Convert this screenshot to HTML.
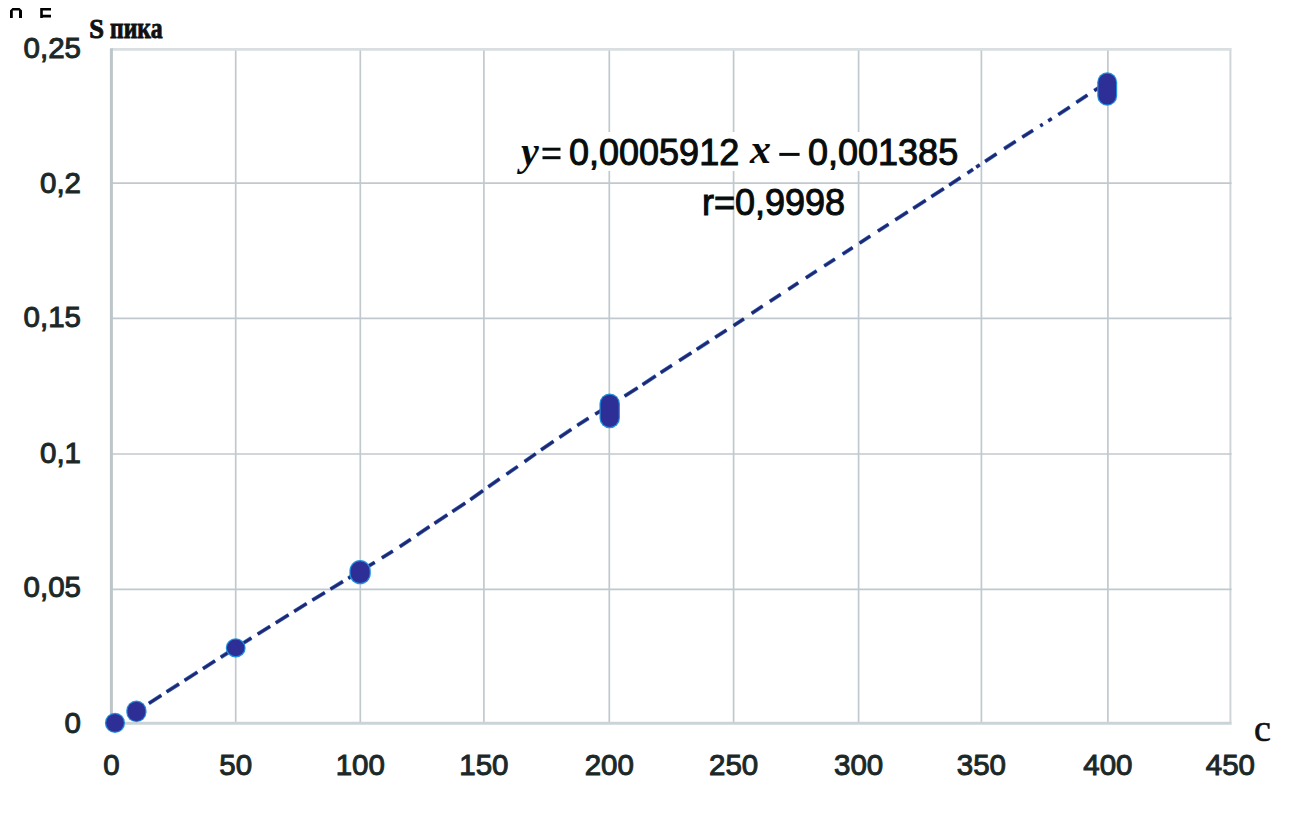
<!DOCTYPE html>
<html><head><meta charset="utf-8"><style>
html,body{margin:0;padding:0;background:#fff;}
body{width:1299px;height:817px;overflow:hidden;position:relative;}
svg{position:absolute;left:0;top:0;}
.ax{font-family:"Liberation Sans",sans-serif;font-size:29.5px;fill:#1C2828;stroke:#1C2828;stroke-width:1.0px;}
.eq{font-family:"Liberation Sans",sans-serif;font-size:36px;fill:#080C0C;stroke:#080C0C;stroke-width:1.0px;}
.it{font-family:"Liberation Serif",serif;font-style:italic;font-weight:bold;fill:#080C0C;}
.sl{font-family:"Liberation Serif",serif;font-weight:bold;fill:#111;stroke:#111;stroke-width:0.9px;}
.cl{font-family:"Liberation Serif",serif;font-size:38px;fill:#111;stroke:#111;stroke-width:0.6px;}
</style></head><body>
<svg width="1299" height="817" viewBox="0 0 1299 817">
<rect width="1299" height="817" fill="#fff"/>
<line x1="235.7" y1="49.4" x2="235.7" y2="723.3" stroke="#C0C9CD" stroke-width="1.7"/>
<line x1="360.3" y1="49.4" x2="360.3" y2="723.3" stroke="#C0C9CD" stroke-width="1.7"/>
<line x1="483.9" y1="49.4" x2="483.9" y2="723.3" stroke="#C0C9CD" stroke-width="1.7"/>
<line x1="609.3" y1="49.4" x2="609.3" y2="723.3" stroke="#C0C9CD" stroke-width="1.7"/>
<line x1="733.6" y1="49.4" x2="733.6" y2="723.3" stroke="#C0C9CD" stroke-width="1.7"/>
<line x1="858.6" y1="49.4" x2="858.6" y2="723.3" stroke="#C0C9CD" stroke-width="1.7"/>
<line x1="981.4" y1="49.4" x2="981.4" y2="723.3" stroke="#C0C9CD" stroke-width="1.7"/>
<line x1="1107.9" y1="49.4" x2="1107.9" y2="723.3" stroke="#C0C9CD" stroke-width="1.7"/>
<line x1="1230.4" y1="49.4" x2="1230.4" y2="723.3" stroke="#CFD6D9" stroke-width="2.0"/>
<line x1="111.4" y1="589.3" x2="1231.6000000000001" y2="589.3" stroke="#C0C9CD" stroke-width="1.7"/>
<line x1="111.4" y1="454.0" x2="1231.6000000000001" y2="454.0" stroke="#C0C9CD" stroke-width="1.7"/>
<line x1="111.4" y1="318.3" x2="1231.6000000000001" y2="318.3" stroke="#C0C9CD" stroke-width="1.7"/>
<line x1="111.4" y1="183.2" x2="1231.6000000000001" y2="183.2" stroke="#C0C9CD" stroke-width="1.7"/>
<line x1="111.4" y1="49.4" x2="1231.6000000000001" y2="49.4" stroke="#D9DEE1" stroke-width="2.6"/>
<line x1="111.4" y1="48.199999999999996" x2="111.4" y2="724.8" stroke="#BDC6CA" stroke-width="3"/>
<line x1="109.9" y1="723.3" x2="1231.6000000000001" y2="723.3" stroke="#CAD3D7" stroke-width="3"/>
<path d="M148.90,703.32L161.30,695.33 M166.60,691.94L179.00,684.00 M184.60,680.42L197.40,672.23 M203.00,668.64L215.00,660.96 M220.80,657.25L232.20,649.99 M239.30,645.56L251.40,638.02 M257.70,634.09L270.10,626.35 M275.80,622.80L288.50,614.88 M294.20,611.32L306.60,603.68 M312.40,600.13L324.80,592.56 M330.50,589.08L342.90,581.54 M348.30,578.28L359.70,571.41 M363.30,569.23L374.70,562.36 M381.90,557.96L392.80,551.08 M399.80,546.65L410.70,539.37 M416.90,535.02L429.40,526.66 M434.50,523.30L447.30,514.88 M452.40,511.53L465.20,503.10 M470.40,499.66L483.00,490.60 M488.30,486.79L499.60,478.91 M506.50,474.25L517.70,466.49 M524.60,461.61L535.70,453.75 M541.10,449.93L553.50,441.39 M559.50,437.37L571.30,429.46 M577.30,425.44L588.50,418.26 M595.30,414.11L606.70,407.15 M624.60,396.22L637.60,387.95 M642.60,384.63L655.70,375.96 M660.70,372.65L671.90,365.34 M679.20,360.64L691.30,352.84 M696.80,349.30L708.90,341.51 M715.20,337.45L726.50,330.18 M733.60,325.61L743.90,318.80 M751.70,313.44L762.60,306.04 M769.90,301.30L780.60,294.35 M788.30,289.35L798.20,282.92 M805.90,277.92L816.60,270.97 M824.30,265.97L834.90,259.08 M842.70,254.02L852.60,247.59 M859.60,243.04L870.20,236.16 M877.90,231.16L888.50,224.27 M895.30,219.86L907.70,211.87 M913.30,208.29L925.70,200.34 M931.40,196.69L943.80,188.67 M949.20,185.10L960.50,177.64 M967.50,173.01L973.00,169.38 M976.30,167.20L979.70,164.95 M985.20,161.31L996.50,153.85 M1004.20,148.76L1015.60,141.40 M1022.30,137.18L1033.00,130.45 M1040.30,125.85L1042.70,124.34 M1048.30,120.82L1051.70,118.68 M1058.30,114.52L1069.70,107.05 M1076.40,102.48L1087.40,95.17 M1094.30,90.70L1105.70,83.31" stroke="#2F6FC8" stroke-width="3.9" fill="none"/>
<path d="M148.90,703.32L161.30,695.33 M166.60,691.94L179.00,684.00 M184.60,680.42L197.40,672.23 M203.00,668.64L215.00,660.96 M220.80,657.25L232.20,649.99 M239.30,645.56L251.40,638.02 M257.70,634.09L270.10,626.35 M275.80,622.80L288.50,614.88 M294.20,611.32L306.60,603.68 M312.40,600.13L324.80,592.56 M330.50,589.08L342.90,581.54 M348.30,578.28L359.70,571.41 M363.30,569.23L374.70,562.36 M381.90,557.96L392.80,551.08 M399.80,546.65L410.70,539.37 M416.90,535.02L429.40,526.66 M434.50,523.30L447.30,514.88 M452.40,511.53L465.20,503.10 M470.40,499.66L483.00,490.60 M488.30,486.79L499.60,478.91 M506.50,474.25L517.70,466.49 M524.60,461.61L535.70,453.75 M541.10,449.93L553.50,441.39 M559.50,437.37L571.30,429.46 M577.30,425.44L588.50,418.26 M595.30,414.11L606.70,407.15 M624.60,396.22L637.60,387.95 M642.60,384.63L655.70,375.96 M660.70,372.65L671.90,365.34 M679.20,360.64L691.30,352.84 M696.80,349.30L708.90,341.51 M715.20,337.45L726.50,330.18 M733.60,325.61L743.90,318.80 M751.70,313.44L762.60,306.04 M769.90,301.30L780.60,294.35 M788.30,289.35L798.20,282.92 M805.90,277.92L816.60,270.97 M824.30,265.97L834.90,259.08 M842.70,254.02L852.60,247.59 M859.60,243.04L870.20,236.16 M877.90,231.16L888.50,224.27 M895.30,219.86L907.70,211.87 M913.30,208.29L925.70,200.34 M931.40,196.69L943.80,188.67 M949.20,185.10L960.50,177.64 M967.50,173.01L973.00,169.38 M976.30,167.20L979.70,164.95 M985.20,161.31L996.50,153.85 M1004.20,148.76L1015.60,141.40 M1022.30,137.18L1033.00,130.45 M1040.30,125.85L1042.70,124.34 M1048.30,120.82L1051.70,118.68 M1058.30,114.52L1069.70,107.05 M1076.40,102.48L1087.40,95.17 M1094.30,90.70L1105.70,83.31" stroke="#25266E" stroke-width="2.6" fill="none"/>
<rect x="104.90" y="712.80" width="20.20" height="20.20" rx="10.10" ry="10.10" fill="#2290DE"/>
<rect x="106.10" y="714.00" width="17.80" height="17.80" rx="8.90" ry="8.90" fill="#2E2F96"/>
<rect x="126.30" y="700.50" width="20.20" height="21.80" rx="10.10" ry="10.10" fill="#2290DE"/>
<rect x="127.50" y="701.70" width="17.80" height="19.40" rx="8.90" ry="8.90" fill="#2E2F96"/>
<rect x="225.75" y="638.30" width="19.90" height="19.20" rx="9.95" ry="9.95" fill="#2290DE"/>
<rect x="226.95" y="639.50" width="17.50" height="16.80" rx="8.75" ry="8.75" fill="#2E2F96"/>
<rect x="349.40" y="560.10" width="21.40" height="24.20" rx="10.70" ry="10.70" fill="#2290DE"/>
<rect x="350.60" y="561.30" width="19.00" height="21.80" rx="9.50" ry="9.50" fill="#2E2F96"/>
<rect x="599.45" y="393.50" width="20.50" height="34.70" rx="10.25" ry="10.25" fill="#2290DE"/>
<rect x="600.65" y="394.70" width="18.10" height="32.30" rx="9.05" ry="9.05" fill="#2E2F96"/>
<rect x="1097.20" y="72.30" width="20.00" height="33.50" rx="10.00" ry="10.00" fill="#2290DE"/>
<rect x="1098.40" y="73.50" width="17.60" height="31.10" rx="8.80" ry="8.80" fill="#2E2F96"/>
<text x="81" y="733.03" text-anchor="end" class="ax">0</text>
<text x="81" y="597.03" text-anchor="end" class="ax">0,05</text>
<text x="81" y="462.93" text-anchor="end" class="ax">0,1</text>
<text x="81" y="326.93" text-anchor="end" class="ax">0,15</text>
<text x="81" y="193.33" text-anchor="end" class="ax">0,2</text>
<text x="81" y="57.73" text-anchor="end" class="ax">0,25</text>
<text x="111.4" y="775.03" text-anchor="middle" class="ax">0</text>
<text x="235.7" y="775.03" text-anchor="middle" class="ax">50</text>
<text x="360.3" y="775.03" text-anchor="middle" class="ax">100</text>
<text x="483.9" y="775.03" text-anchor="middle" class="ax">150</text>
<text x="609.3" y="775.03" text-anchor="middle" class="ax">200</text>
<text x="733.6" y="775.03" text-anchor="middle" class="ax">250</text>
<text x="858.6" y="775.03" text-anchor="middle" class="ax">300</text>
<text x="981.4" y="775.03" text-anchor="middle" class="ax">350</text>
<text x="1107.9" y="775.03" text-anchor="middle" class="ax">400</text>
<text x="1230.4" y="775.03" text-anchor="middle" class="ax">450</text>
<path d="M10,18 V10.5 L12.5,8 H19.5 L22,10.5 V18 H19 V10.6 H12.8 V18 Z" fill="#000"/>
<path d="M40.2,8 H51 V10.6 H42.8 V14.8 H51 V17.4 H42.8 V18 H40.2 Z" fill="#000"/>
<text x="89.3" y="37.8" class="sl" font-size="26.5">S</text>
<text x="110" y="37.8" class="sl" font-size="28.5" textLength="52.5" lengthAdjust="spacingAndGlyphs">пика</text>
<text x="1254" y="741" class="cl">c</text>
<rect x="514" y="132" width="448" height="39" fill="#fff"/>
<text x="521" y="165" class="it" font-size="40">y</text>
<rect x="542.5" y="147.7" width="18" height="3" fill="#080C0C"/>
<rect x="542.5" y="156.2" width="18" height="3" fill="#080C0C"/>
<text x="569" y="164.8" class="eq">0,0005912</text>
<text x="750" y="163.2" class="it" font-size="42">x</text>
<rect x="779.3" y="152.9" width="20.3" height="3" fill="#080C0C"/>
<text x="808" y="164.8" class="eq">0,001385</text>
<text x="702" y="215.3" class="eq">r=0,9998</text>
</svg>
</body></html>
